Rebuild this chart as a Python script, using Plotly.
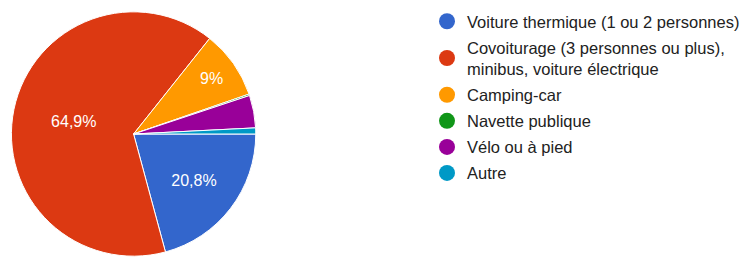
import plotly.graph_objects as go

categories = [
    "Voiture thermique (1 ou 2 personnes)",
    "Covoiturage (3 personnes ou plus),<br>minibus, voiture électrique",
    "Camping-car",
    "Navette publique",
    "Vélo ou à pied",
    "Autre",
]
values = [20.8, 64.9, 9.0, 0.2, 4.3, 0.8]
slice_labels = ["20,8%", "64,9%", "9%", "", "", ""]
colors = ["#3366CC", "#DC3912", "#FF9900", "#109618", "#990099", "#0099C6"]

W, H = 745, 257
FONT = "Arial, 'Liberation Sans', sans-serif"

fig = go.Figure()
fig.add_trace(go.Pie(
    labels=categories,
    values=values,
    text=slice_labels,
    textinfo="text",
    textposition="inside",
    insidetextorientation="horizontal",
    textfont=dict(family=FONT, size=16, color="white"),
    marker=dict(colors=colors, line=dict(color="white", width=1)),
    sort=False,
    direction="clockwise",
    rotation=90,
    showlegend=False,
    hoverinfo="label+percent",
    domain=dict(x=[11.5 / W, 257.5 / W], y=[0, (H - 11) / H]),
))

for i, (name, c) in enumerate(zip(categories, colors)):
    fig.add_trace(go.Scatter(
        x=[None], y=[None], mode="markers", name=name,
        legendgroup=f"g{i}",
        marker=dict(symbol="circle", size=16, color=c),
    ))

fig.update_layout(
    width=W, height=H,
    margin=dict(l=0, r=0, t=0, b=0),
    paper_bgcolor="white", plot_bgcolor="white",
    xaxis=dict(visible=False), yaxis=dict(visible=False),
    legend=dict(
        x=430 / W, xanchor="left", y=1 - 4 / H, yanchor="top",
        font=dict(family=FONT, size=16.5, color="#222222"),
        tracegroupgap=1.6, traceorder="grouped",
        bgcolor="rgba(0,0,0,0)",
    ),
)

fig.write_html(
    "out.html",
    config={"displayModeBar": False},
    post_script="document.body.style.margin='0';document.body.style.overflow='hidden';",
)
